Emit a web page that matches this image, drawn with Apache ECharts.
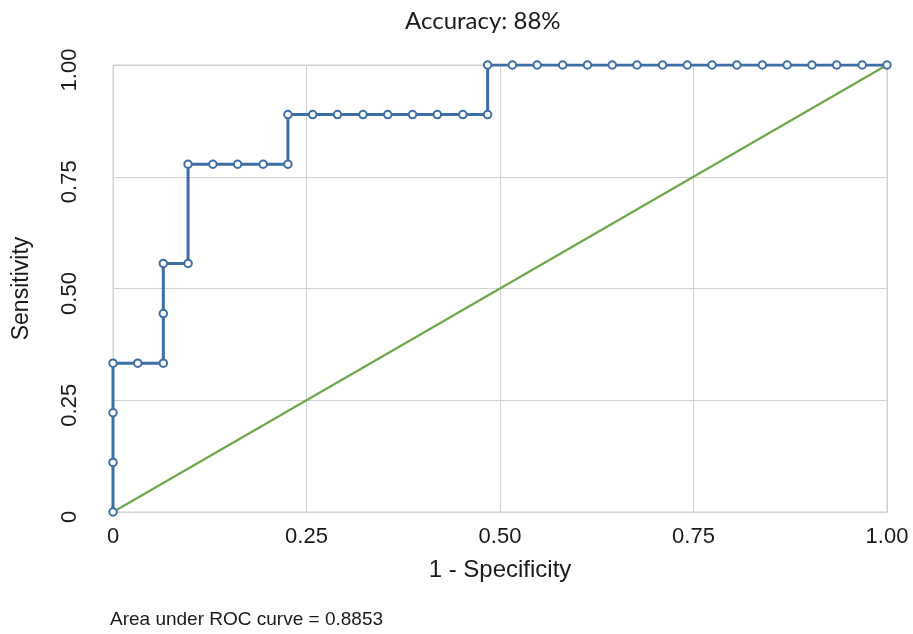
<!DOCTYPE html>
<html>
<head>
<meta charset="utf-8">
<script src="https://cdn.jsdelivr.net/npm/echarts@6/dist/echarts.min.js"></script>
<style>
html,body{margin:0;padding:0;background:#fff;}
#chart{width:913px;height:634px;}
</style>
</head>
<body>
<div id="chart"></div>
<script>
// ROC curve points (1 - specificity, sensitivity)
const fpr = [0, 0, 0, 0, 0.032, 0.065, 0.065, 0.065, 0.097, 0.097,
  0.129, 0.161, 0.194, 0.226, 0.226, 0.258, 0.290, 0.323, 0.355, 0.387,
  0.419, 0.452, 0.484, 0.484, 0.516, 0.548, 0.581, 0.613, 0.645, 0.677,
  0.710, 0.742, 0.774, 0.806, 0.839, 0.871, 0.903, 0.935, 0.968, 1.0];
const tpr = [0, 0.111, 0.222, 0.333, 0.333, 0.333, 0.444, 0.556, 0.556, 0.778,
  0.778, 0.778, 0.778, 0.778, 0.889, 0.889, 0.889, 0.889, 0.889, 0.889,
  0.889, 0.889, 0.889, 1, 1, 1, 1, 1, 1, 1,
  1, 1, 1, 1, 1, 1, 1, 1, 1, 1];
// reference diagonal
const diagX = [0, 1];
const diagY = [0, 1];
const tickValues = [0, 0.25, 0.5, 0.75, 1];
const titleText = 'Accuracy: 88%';
const aucText = 'Area under ROC curve = 0.8853';
const xName = '1 - Specificity';
const yName = 'Sensitivity';

const rocData = fpr.map((x, i) => [x, tpr[i]]);
const diagData = diagX.map((x, i) => [x, diagY[i]]);
const fmt = v => (v === 0 ? '0' : v.toFixed(2));
const gridColor = '#d2d2d2';
const textColor = '#1a1a1a';
const sans = '"Liberation Sans", Arial, Helvetica, sans-serif';

const chart = echarts.init(document.getElementById('chart'), null, {renderer: 'canvas'});
chart.setOption({
  backgroundColor: '#ffffff',
  animation: false,
  title: [
    {text: titleText, left: 405, top: 9, padding: 0,
     textStyle: {fontFamily: 'Lato, "Open Sans", sans-serif', fontSize: 24, fontWeight: 'normal', color: textColor}},
    {text: aucText, left: 110, top: 610, padding: 0,
     textStyle: {fontFamily: sans, fontSize: 19, fontWeight: 'normal', color: textColor}}
  ],
  grid: {left: 113, right: 26, top: 65, bottom: 122, show: true, borderColor: gridColor, borderWidth: 1},
  xAxis: {
    type: 'value', min: 0, max: 1, interval: 0.25,
    name: xName, nameLocation: 'middle', nameGap: 46,
    nameTextStyle: {fontFamily: sans, fontSize: 24, color: textColor},
    axisLine: {show: true, lineStyle: {color: gridColor}},
    axisTick: {show: false},
    splitLine: {show: true, lineStyle: {color: gridColor, width: 1}},
    axisLabel: {fontFamily: sans, fontSize: 22, color: textColor, margin: 14, formatter: fmt}
  },
  yAxis: {
    type: 'value', min: 0, max: 1, interval: 0.25,
    name: yName, nameLocation: 'middle', nameGap: 80, nameRotate: 90,
    nameTextStyle: {fontFamily: sans, fontSize: 23, color: textColor},
    axisLine: {show: true, lineStyle: {color: gridColor}},
    axisTick: {show: false},
    splitLine: {show: true, lineStyle: {color: gridColor, width: 1}},
    axisLabel: {fontFamily: sans, fontSize: 22, color: textColor, margin: 32, rotate: 90,
      padding: [0, 10, 0, 0], formatter: fmt}
  },
  series: [
    {type: 'line', data: diagData, symbol: 'none', silent: true,
     lineStyle: {color: '#6fa84c', width: 2.2}, z: 2},
    {type: 'line', data: rocData, symbol: 'emptyCircle', symbolSize: 7.5,
     lineStyle: {color: '#3d6ea6', width: 3},
     itemStyle: {color: '#3d6ea6', borderColor: '#3d6ea6', borderWidth: 2},
     z: 3}
  ]
});
</script>
</body>
</html>
